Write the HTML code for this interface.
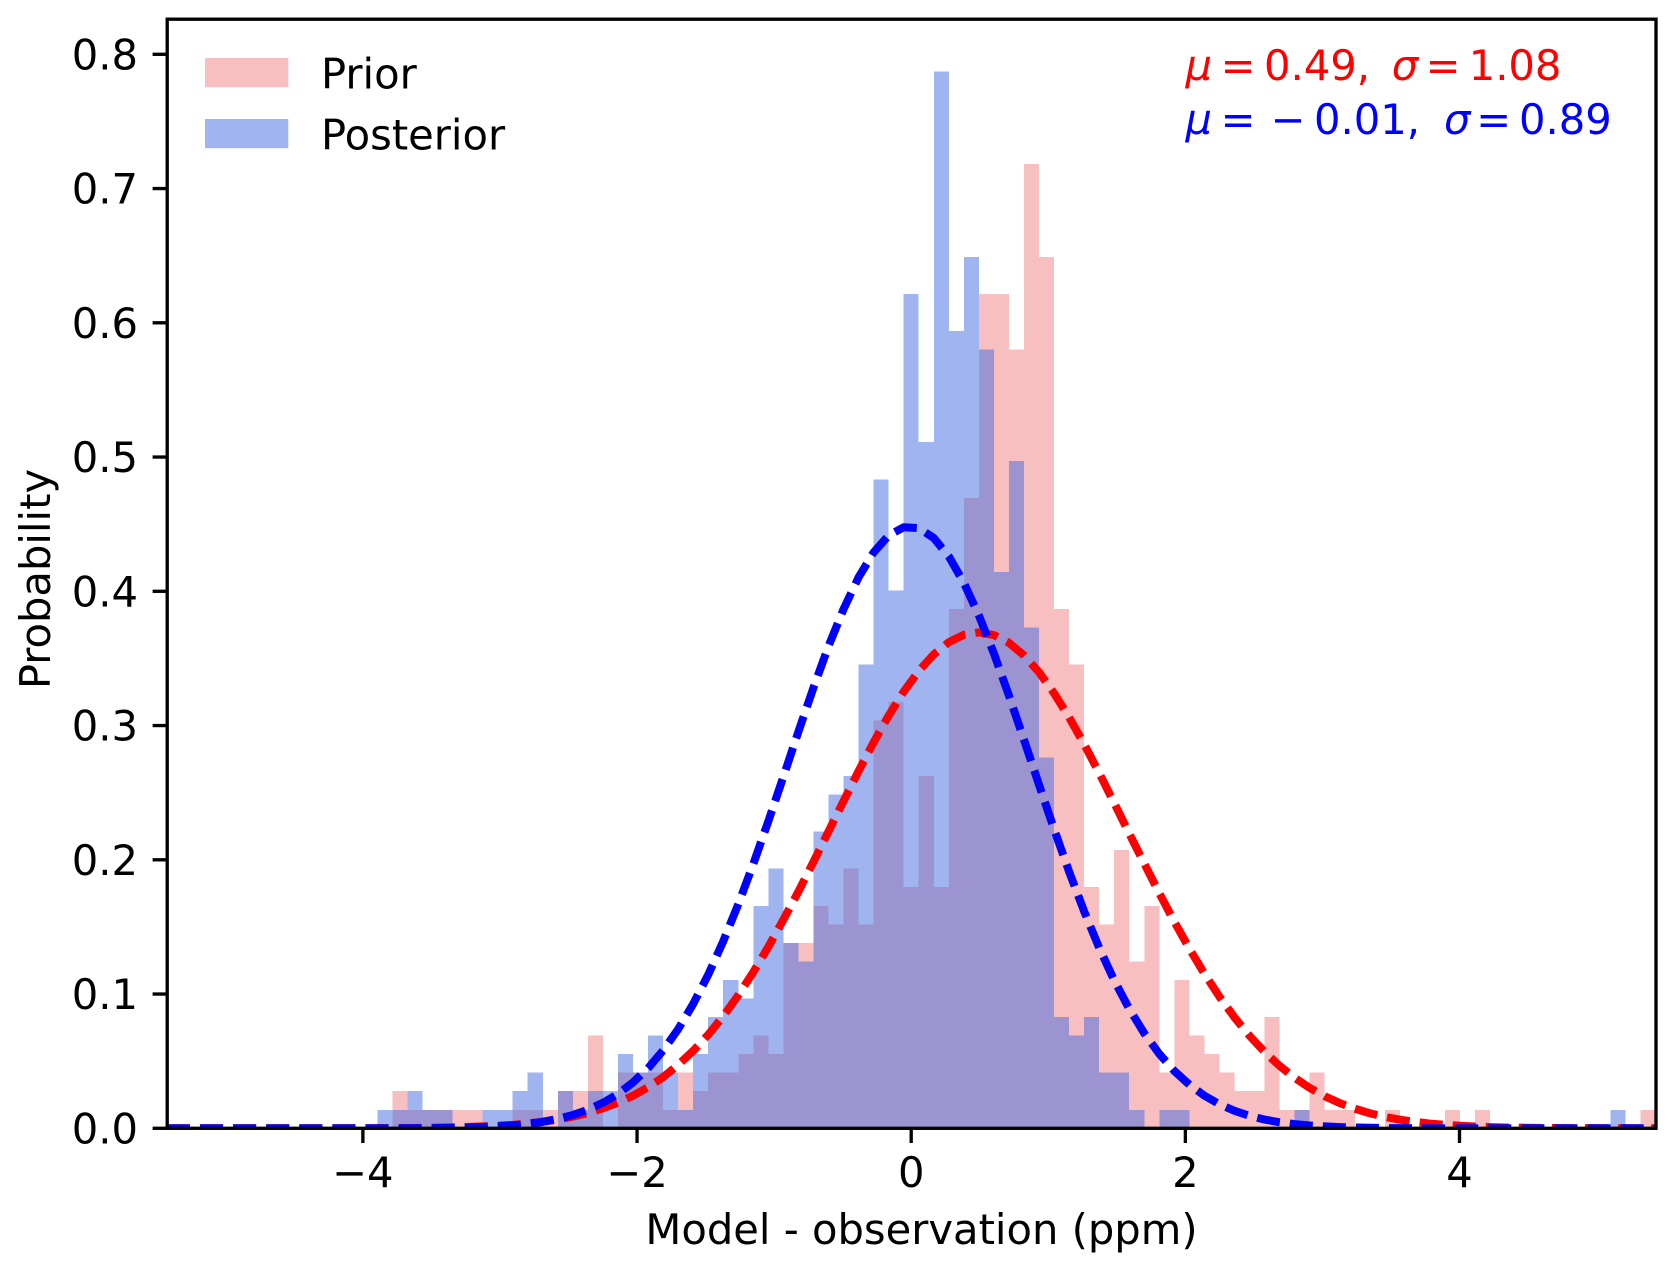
<!DOCTYPE html>
<html lang="en">
<head>
<meta charset="utf-8">
<title>Prior and posterior model-observation histogram</title>
<style>
html,body{margin:0;padding:0;background:#fff;width:1676px;height:1271px;overflow:hidden}
svg{display:block}
text{font-family:"DejaVu Sans","Liberation Sans",sans-serif;font-size:41.67px;fill:#000}
.it{font-style:italic}
</style>
</head>
<body>
<svg id="chart" xmlns="http://www.w3.org/2000/svg" width="1676" height="1271" viewBox="0 0 1676 1271">
  <defs>
    <clipPath id="plot-clip"><rect x="167.2" y="19.2" width="1488.8" height="1109.1"/></clipPath>
  </defs>
  <rect x="0" y="0" width="1676" height="1271" fill="#fff"/>
  <g id="prior-bars" clip-path="url(#plot-clip)"></g>
  <g id="posterior-bars" clip-path="url(#plot-clip)"></g>
  <g clip-path="url(#plot-clip)">
    <polyline id="prior-curve" fill="none" stroke="#ff0000" stroke-width="8" stroke-dasharray="23.1 10" stroke-linejoin="round"/>
    <polyline id="posterior-curve" fill="none" stroke="#0000ff" stroke-width="8" stroke-dasharray="23.1 10" stroke-linejoin="round"/>
  </g>
  <g id="x-ticks"></g>
  <g id="y-ticks"></g>
  <rect x="167.2" y="19.2" width="1488.8" height="1109.1" fill="none" stroke="#000" stroke-width="3.33"/>

  <text x="921.5" y="1244" text-anchor="middle">Model - observation (ppm)</text>
  <text transform="translate(50,579) rotate(-90)" text-anchor="middle">Probability</text>

  <g>
    <g>
      <rect x="205" y="58" width="83.3" height="29.2" style="fill:rgb(240,128,128);fill-opacity:.5"/>
      <text x="321" y="88.5">Prior</text>
    </g>
    <g>
      <rect x="205" y="119" width="83.3" height="29.2" style="fill:rgb(65,105,225);fill-opacity:.5"/>
      <text x="321" y="149.5">Posterior</text>
    </g>
  </g>

  <g>
    <text class="it" x="1185.5" y="80" style="fill:#f00">μ</text>
    <text x="1220.6" y="80" style="fill:#f00">=</text>
    <text x="1264" y="80" style="fill:#f00">0.49,</text>
    <text class="it" x="1391.7" y="80" style="fill:#f00">σ</text>
    <text x="1425.6" y="80" style="fill:#f00">=</text>
    <text x="1468.7" y="80" style="fill:#f00">1.08</text>
  </g>
  <g>
    <text class="it" x="1185.5" y="134" style="fill:#00f">μ</text>
    <text x="1220.6" y="134" style="fill:#00f">=</text>
    <text x="1270.6" y="134" style="fill:#00f">−</text>
    <text x="1314" y="134" style="fill:#00f">0.01,</text>
    <text class="it" x="1444" y="134" style="fill:#00f">σ</text>
    <text x="1476.3" y="134" style="fill:#00f">=</text>
    <text x="1519" y="134" style="fill:#00f">0.89</text>
  </g>
</svg>
<script>
const priorCounts = [0,0,0,0,0,0,0,0,0,0,0,0,0,0,0,2,1,1,1,1,1,0,0,1,1,1,2,2,5,0,3,3,3,1,3,2,3,3,4,5,4,10,10,12,11,14,11,22,23,13,19,13,28,34,45,45,42,52,47,28,25,13,11,15,9,12,3,8,5,4,3,2,2,6,1,1,3,1,1,0,0,1,0,0,0,1,0,1,0,0,0,0,0,0,0,0,0,0,1];
const posteriorCounts = [0,0,0,0,0,0,0,0,0,0,0,0,0,0,1,1,2,1,1,0,0,1,1,2,3,0,2,1,2,2,4,3,5,3,1,4,6,8,7,12,14,10,9,16,18,19,25,35,29,45,37,57,43,47,42,30,36,27,20,6,5,6,3,3,1,0,1,1,0,0,0,0,0,0,0,1,0,0,0,0,0,0,0,0,0,0,0,0,0,0,0,0,0,0,0,0,1,0,0];
const priorCurve = [0,0,0,0,0,0,0,0,0,0,0,0,0,0,.0001,.0001,.0002,.0003,.0005,.0007,.0010,.0014,.0019,.0026,.0036,.0049,.0065,.0087,.0114,.0149,.0191,.0243,.0306,.0381,.0472,.0577,.0697,.0835,.0991,.1164,.1352,.1554,.1764,.1985,.2211,.2437,.2661,.2875,.3074,.3253,.3406,.3530,.3621,.3676,.3694,.3674,.3616,.3523,.3397,.3241,.3061,.2862,.2647,.2423,.2196,.1972,.1751,.1539,.1338,.1151,.0980,.0826,.0689,.0569,.0465,.0376,.0301,.0239,.0188,.0146,.0112,.0085,.0064,.0048,.0035,.0026,.0019,.0013,.0009,.0006,.0005,.0003,.0002,.0001,.0001,.0001,0,0,0,0];
const posteriorCurve = [0,0,0,0,0,0,0,0,0,0,0,0,0,0,0,0,.0001,.0001,.0002,.0004,.0006,.0010,.0015,.0022,.0033,.0048,.0070,.0099,.0138,.0190,.0256,.0342,.0448,.0580,.0738,.0926,.1144,.1393,.1669,.1969,.2288,.2619,.2955,.3282,.3591,.3867,.4104,.4290,.4416,.4477,.4471,.4397,.4260,.4064,.3820,.3537,.3223,.2894,.2559,.2229,.1912,.1616,.1345,.1102,.0890,.0707,.0554,.0427,.0325,.0243,.0179,.0130,.0093,.0065,.0045,.0031,.0021,.0014,.0009,.0006,.0004,.0002,.0001,.0001,0,0,0,0,0,0,0,0,0,0,0,0,0,0,0,0];
const xTickValues = [-4,-2,0,2,4];
const xTickLabels = ["−4","−2","0","2","4"];
const yTickValues = [0,0.1,0.2,0.3,0.4,0.5,0.6,0.7,0.8];
const yTickLabels = ["0.0","0.1","0.2","0.3","0.4","0.5","0.6","0.7","0.8"];
const densityPerCount = 0.013812;
const binStart = -5.43;
const binWidth = 10.86 / 99;

const SVG_NS = 'http://www.w3.org/2000/svg';
const xScale = v => 911.2 + 137.08 * v;
const yScale = v => 1128.3 - 1342.5 * v;

function drawBars(groupId, counts, fill, name) {
  const group = document.getElementById(groupId);
  counts.forEach((count, i) => {
    if (!count) return;
    const density = count * densityPerCount;
    const x0 = xScale(binStart + binWidth * i);
    const x1 = xScale(binStart + binWidth * (i + 1));
    const el = document.createElementNS(SVG_NS, 'rect');
    
    
    el.setAttribute('x', x0);
    el.setAttribute('width', x1 - x0);
    el.setAttribute('y', yScale(density));
    el.setAttribute('height', yScale(0) - yScale(density));
    el.setAttribute('fill', fill);
    el.setAttribute('fill-opacity', '0.5');
    el.setAttribute('shape-rendering', 'crispEdges');
    group.appendChild(el);
  });
}
drawBars('prior-bars', priorCounts, 'rgb(240,128,128)', 'prior');
drawBars('posterior-bars', posteriorCounts, 'rgb(65,105,225)', 'posterior');

function drawCurve(id, values) {
  const pts = values.map((v, i) => xScale(binStart + binWidth * i).toFixed(2) + ',' + yScale(v).toFixed(2));
  document.getElementById(id).setAttribute('points', pts.join(' '));
}
drawCurve('prior-curve', priorCurve);
drawCurve('posterior-curve', posteriorCurve);

const xTickGroup = document.getElementById('x-ticks');
xTickValues.forEach((v, i) => {
  const line = document.createElementNS(SVG_NS, 'line');
  
  
  line.setAttribute('x1', xScale(v));
  line.setAttribute('x2', xScale(v));
  line.setAttribute('y1', 1128.3);
  line.setAttribute('y2', 1143);
  line.setAttribute('stroke', '#000');
  line.setAttribute('stroke-width', '3.33');
  xTickGroup.appendChild(line);
  const label = document.createElementNS(SVG_NS, 'text');
  
  
  label.setAttribute('x', xScale(v));
  label.setAttribute('y', 1187);
  label.setAttribute('text-anchor', 'middle');
  label.textContent = xTickLabels[i];
  xTickGroup.appendChild(label);
});

const yTickGroup = document.getElementById('y-ticks');
yTickValues.forEach((v, i) => {
  const line = document.createElementNS(SVG_NS, 'line');
  
  
  line.setAttribute('x1', 152.6);
  line.setAttribute('x2', 167.2);
  line.setAttribute('y1', yScale(v));
  line.setAttribute('y2', yScale(v));
  line.setAttribute('stroke', '#000');
  line.setAttribute('stroke-width', '3.33');
  yTickGroup.appendChild(line);
  const label = document.createElementNS(SVG_NS, 'text');
  
  
  label.setAttribute('x', 138);
  label.setAttribute('y', yScale(v) + 15);
  label.setAttribute('text-anchor', 'end');
  label.textContent = yTickLabels[i];
  yTickGroup.appendChild(label);
});
</script>
</body>
</html>
